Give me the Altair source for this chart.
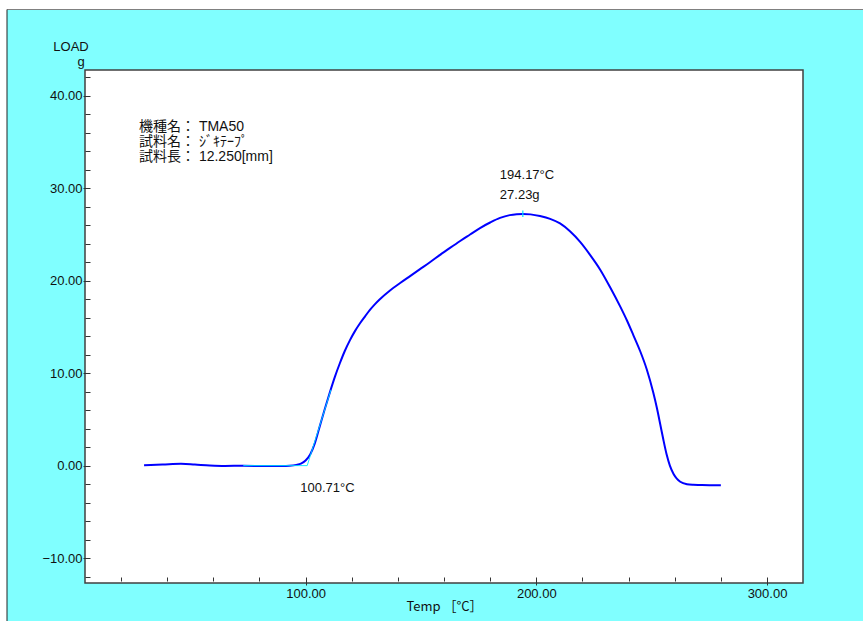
import altair as alt
import pandas as pd

# ---- data ----
temp = [30, 38, 46, 52, 58.5, 65, 73, 83, 90, 93, 96, 98, 100, 102, 104, 106.2, 108.3,
        110.5, 112.7, 114.9, 117, 119.2, 121.4, 123.6, 125.8, 127.9, 130, 132.2, 136.6,
        141, 145.3, 149.6, 153.9, 158.3, 162.6, 167, 171.3, 175.6, 180, 184.3, 188.5,
        191.5, 194.17, 197.5, 201.6, 206, 210.3, 214.6, 219, 223.3, 227.7, 232, 236.4,
        239.3, 242.1, 245, 247.9, 250.7, 252.3, 253.7, 255, 256.5, 257.9, 259.5, 260.9,
        262.4, 265.3, 268, 271, 275, 280]
load = [0.05, 0.12, 0.2, 0.12, 0.02, -0.03, -0.02, -0.05, -0.05, -0.02, 0.08, 0.22, 0.55,
        1.2, 2.4, 4.3, 6.1, 7.9, 9.6, 11.1, 12.4, 13.55, 14.55, 15.4, 16.15, 16.85, 17.45,
        18.0, 18.95, 19.75, 20.5, 21.25, 22.0, 22.8, 23.55, 24.3, 25.0, 25.7, 26.3, 26.8,
        27.1, 27.2, 27.23, 27.18, 27.0, 26.7, 26.2, 25.35, 24.2, 22.8, 21.2, 19.3, 17.2,
        15.7, 14.1, 12.4, 10.4, 7.9, 6.2, 4.5, 2.9, 1.2, 0.0, -0.9, -1.4, -1.75, -2.02,
        -2.08, -2.1, -2.12, -2.13]

base_t = [73.0, 100.71]
base_l = [0.0, 0.0]
tan_t = [100.71, 111.0]
tan_l = [0.0, 8.2]
peak_t = [194.17]
peak_l = [27.23]
peak_tick_l = [26.9, 27.6]
onset_t = [100.71]
onset_l = [0.0]

x_ticks = list(range(20, 301, 20))
y_ticks = list(range(-12, 43, 2))
info_lines = ["機種名： TMA50", "試料名： ｼﾞｷﾃｰﾌﾟ", "試料長： 12.250[mm]"]

W, H = 718, 513
FONT = "Liberation Sans, Noto Sans CJK JP"
JFONT = "Noto Sans CJK JP"

xs = alt.Scale(domain=[4.4, 315.6], nice=False, zero=False)
ys = alt.Scale(domain=[-12.7, 42.8], nice=False, zero=False)

xaxis = alt.Axis(
    values=x_ticks, tickCount=100,
    labelExpr="datum.value % 100 === 0 ? format(datum.value, '.2f') : ''",
    tickSize={"condition": {"test": "datum.value % 100 === 0", "value": 8}, "value": 4},
    offset=-6, domain=False, grid=False, tickColor="#333", tickWidth=1,
    labelFont=FONT, labelFontSize=13, labelColor="#111", labelPadding=2,
    labelFlush=False, labelOverlap=False,
    title="Temp ［°C］", titleFont=JFONT, titleFontSize=13, titleFontWeight="normal",
    titleColor="#111", titlePadding=0,
)
yaxis = alt.Axis(
    values=y_ticks, tickCount=100,
    labelExpr="datum.value % 10 === 0 ? format(datum.value, '.2f') : ''",
    tickSize={"condition": {"test": "datum.value % 10 === 0", "value": 7}, "value": 5},
    offset=-5, domain=False, grid=False, tickColor="#333", tickWidth=1,
    labelFont=FONT, labelFontSize=13, labelColor="#111", labelPadding=1,
    labelFlush=False, labelOverlap=False, title=None,
)

X = lambda f: alt.X(f, scale=xs, axis=xaxis)
Y = lambda f: alt.Y(f, scale=ys, axis=yaxis)

df = pd.DataFrame({"temp": temp, "load": load})
curve = alt.Chart(df).mark_line(color="#0000FF", strokeWidth=2, interpolate="monotone").encode(
    x=X("temp:Q"), y=Y("load:Q"), order="temp:Q",
)

base_df = pd.DataFrame({"temp": base_t + tan_t, "load": base_l + tan_l,
                        "seg": ["base", "base", "tan", "tan"]})
cyan_lines = alt.Chart(base_df).mark_line(color="#00E5FF", strokeWidth=1, opacity=0.9).encode(
    x=X("temp:Q"), y=Y("load:Q"), detail="seg:N"
)

peak_df = pd.DataFrame({"temp": peak_t, "lo": [peak_tick_l[0]], "hi": [peak_tick_l[1]],
                        "load": peak_l,
                        "tlabel": [f"{peak_t[0]:.2f}°C"], "llabel": [f"{peak_l[0]:.2f}g"]})
peak_tick = alt.Chart(peak_df).mark_rule(color="#00E5FF", strokeWidth=1.2).encode(
    x=X("temp:Q"), y=Y("lo:Q"), y2="hi:Q"
)
peak_t_txt = alt.Chart(peak_df).mark_text(align="left", baseline="middle", dx=-23, dy=-39,
                                          font=FONT, fontSize=13, color="#111").encode(
    x=X("temp:Q"), y=Y("load:Q"), text="tlabel:N"
)
peak_l_txt = alt.Chart(peak_df).mark_text(align="left", baseline="middle", dx=-23, dy=-19,
                                          font=FONT, fontSize=13, color="#111").encode(
    x=X("temp:Q"), y=Y("load:Q"), text="llabel:N"
)

onset_df = pd.DataFrame({"temp": onset_t, "load": onset_l,
                         "label": [f"{onset_t[0]:.2f}°C"]})
onset_txt = alt.Chart(onset_df).mark_text(align="left", baseline="middle", dx=-7, dy=22,
                                          font=FONT, fontSize=13, color="#111").encode(
    x=X("temp:Q"), y=Y("load:Q"), text="label:N"
)

one = pd.DataFrame({"k": [0]})
info = alt.Chart(one).mark_text(align="left", baseline="top", font=FONT, fontSize=14,
                                lineHeight=15, color="#111").encode(
    x=alt.value(54), y=alt.value(50), text=alt.value(info_lines)
)
load_lbl = alt.Chart(one).mark_text(align="center", baseline="middle", font=FONT,
                                    fontSize=13, color="#111").encode(
    x=alt.value(-14), y=alt.value(-23), text=alt.value("LOAD")
)
g_lbl = alt.Chart(one).mark_text(align="center", baseline="middle", font=FONT,
                                 fontSize=13, color="#111").encode(
    x=alt.value(-4), y=alt.value(-8), text=alt.value("g")
)

# outer window decoration (white strips and thin border)
top_strip = alt.Chart(one).mark_rect(color="white").encode(
    x=alt.value(-85), x2=alt.value(W + 60), y=alt.value(-70), y2=alt.value(-60.5))
left_strip = alt.Chart(one).mark_rect(color="white").encode(
    x=alt.value(-85), x2=alt.value(-78), y=alt.value(-70), y2=alt.value(H + 38))
top_line = alt.Chart(one).mark_rule(color="#808080", strokeWidth=1).encode(
    x=alt.value(-78), x2=alt.value(W + 60), y=alt.value(-60.5))
left_line = alt.Chart(one).mark_rule(color="#222", strokeWidth=1).encode(
    x=alt.value(-78), y=alt.value(-60.5), y2=alt.value(H + 38))

chart = alt.layer(
    top_strip, left_strip, top_line, left_line,
    curve, cyan_lines, peak_tick, peak_t_txt, peak_l_txt, onset_txt, info, load_lbl, g_lbl
).properties(
    width=W, height=H,
    padding={"left": 85, "top": 70, "right": 60, "bottom": 38},
    autosize=alt.AutoSizeParams(type="none"),
).configure(background="#80FFFF").configure_view(
    fill="white", stroke="#404040", strokeWidth=1.5
)

chart.save("out.html", embed_options={"renderer": "svg", "actions": False})
